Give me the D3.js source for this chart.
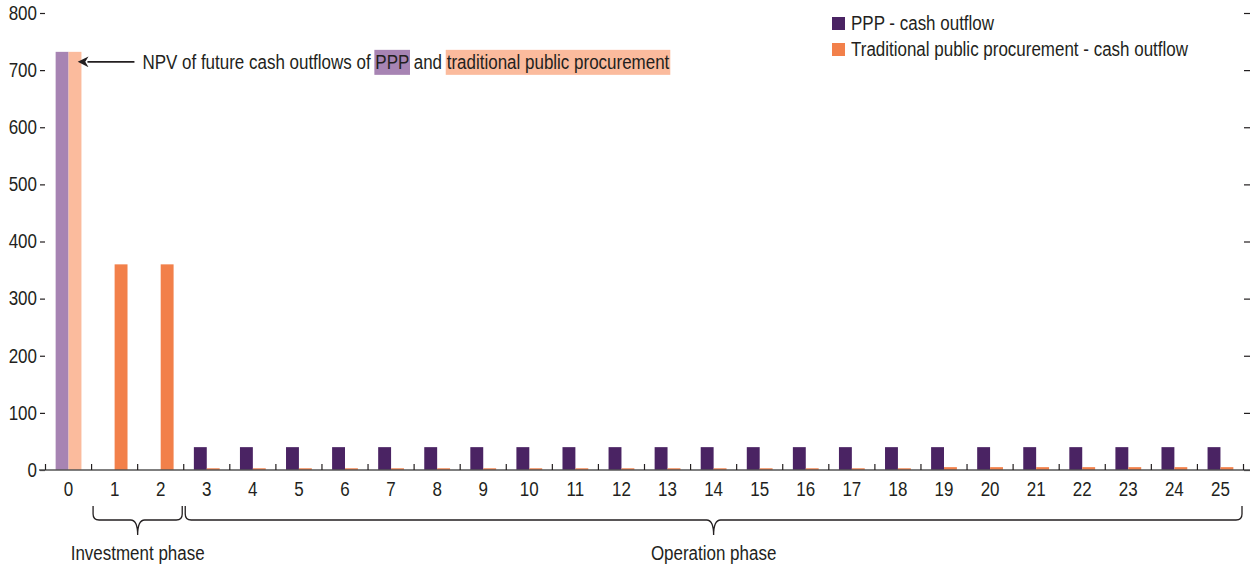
<!DOCTYPE html>
<html><head><meta charset="utf-8">
<script src="https://cdn.jsdelivr.net/npm/d3@7"></script>
<style>
body{margin:0;background:#fff;}
text{font-family:"Liberation Sans",Arial,sans-serif;fill:#231f20;}
</style></head>
<body><svg id="c" width="1254" height="566"></svg>
<script>
const years = d3.range(0, 26).map(String);
const pppValues = [732, 0, 0, 40,40,40,40,40,40,40,40,40,40,40,40,40,40,40,40,40,40,40,40,40,40,40];
const tradValues = [732, 360, 360, 3,3,3,3,3,3,3,3,3,3,3,3,3,3,3,3,5,5,5,5,5,5,5];
const yTicks = [0,100,200,300,400,500,600,700,800];
const seriesNames = ["PPP - cash outflow","Traditional public procurement - cash outflow"];
const phases = [{label:"Investment phase", from:"1", to:"2"},{label:"Operation phase", from:"3", to:"25"}];
const annotation = ["NPV of future cash outflows of ", "PPP", " and ", "traditional public procurement"];

const FS = "19.5px";
const K = 0.87; // condense factor to mimic a narrow font
function condense(sel){
  let tot = 0;
  sel.each(function(){
    const w = this.getComputedTextLength();
    tot = w*K;
    if(w>0){ this.setAttribute("textLength", w*K); this.setAttribute("lengthAdjust","spacingAndGlyphs"); }
  });
  return tot;
}

const colors = {ppp:"#4a2363", trad:"#f2804a", pppNpv:"#a784b3", tradNpv:"#fbbb9d"};
const svg = d3.select("#c");
const x = d3.scaleBand().domain(years).range([45.5, 1243.5]).padding(0);
const bw = x.bandwidth();
const x1 = d3.scaleBand().domain(["ppp","trad"]).range([bw*0.22, bw*0.78]);
const y = d3.scaleLinear().domain([0,800]).range([470,13]);

// left axis
const la = svg.append("g").attr("transform","translate(45,0)")
  .call(d3.axisLeft(y).tickValues(yTicks).tickSize(5).tickPadding(3));
la.select(".domain").remove();
la.selectAll("line").attr("stroke","#231f20").attr("stroke-width",1.2);
la.selectAll("text").style("font-size",FS).attr("fill","#231f20").attr("font-family",null);
condense(la.selectAll("text"));
// right axis
const ra = svg.append("g").attr("transform","translate(1244,0)")
  .call(d3.axisRight(y).tickValues(yTicks).tickSize(6).tickFormat(""));
ra.select(".domain").remove();
ra.selectAll("line").attr("stroke","#231f20").attr("stroke-width",1.2);

// bars
const data = years.map((c,i)=>({c, ppp:pppValues[i], trad:tradValues[i]}));
const g = svg.append("g");
data.forEach((d,i)=>{
  ["ppp","trad"].forEach(k=>{
    const col = i===0 ? (k==="ppp"?colors.pppNpv:colors.tradNpv) : colors[k];
    g.append("rect").attr("x",x(d.c)+x1(k)).attr("width",x1.bandwidth())
      .attr("y",y(d[k])).attr("height",y(0)-y(d[k])).attr("fill",col);
  });
});

// x axis line and ticks
svg.append("line").attr("x1",39).attr("x2",1250).attr("y1",y(0)).attr("y2",y(0)).attr("stroke","#555").attr("stroke-width",1.6);
const bounds = years.map(c=>x(c)).concat([x(years[years.length-1])+bw]);
svg.selectAll(".xt").data(bounds).join("line").attr("x1",d=>d).attr("x2",d=>d)
  .attr("y1",y(0)).attr("y2",y(0)-6).attr("stroke","#231f20").attr("stroke-width",1.2);
const xl = svg.selectAll(".xl").data(years).join("text").attr("x",d=>x(d)+bw/2).attr("y",496)
  .attr("text-anchor","middle").style("font-size",FS).text(d=>d);
condense(xl);

// brackets
phases.forEach(p=>{
  const a = x(p.from)+1.5, b = x(p.to)+bw-1.5, m=(a+b)/2;
  const y0=506, y1=520, y2=535, r=6;
  const path = `M${a},${y0} L${a},${y1-r} Q${a},${y1} ${a+r},${y1} L${m-7},${y1} Q${m},${y1} ${m},${y2} Q${m},${y1} ${m+7},${y1} L${b-r},${y1} Q${b},${y1} ${b},${y1-r} L${b},${y0}`;
  svg.append("path").attr("d",path).attr("fill","none").attr("stroke","#231f20").attr("stroke-width",1.3);
  const t = svg.append("text").attr("x",m).attr("y",560).attr("text-anchor","middle").style("font-size",FS).text(p.label);
  condense(t);
});

// legend
seriesNames.forEach((s,i)=>{
  svg.append("rect").attr("x",832).attr("y",17+i*26).attr("width",13).attr("height",13).attr("fill",i===0?colors.ppp:colors.trad);
  const t = svg.append("text").attr("x",851).attr("y",30+i*26).style("font-size",FS).text(s);
  condense(t);
});

// annotation
const ay = y(pppValues[0]) + 10;
const ax0 = x("0")+x1("trad")+x1.bandwidth()+3;
svg.append("defs").append("marker").attr("id","ah").attr("viewBox","0 0 10 10").attr("refX",1).attr("refY",5)
  .attr("markerWidth",7).attr("markerHeight",6).attr("markerUnits","strokeWidth").attr("orient","auto-start-reverse")
  .append("path").attr("d","M0,0 L10,5 L0,10 L3,5 Z").attr("fill","#231f20");
svg.append("line").attr("x1",ax0+3).attr("x2",ax0+50).attr("y1",ay).attr("y2",ay)
  .attr("stroke","#231f20").attr("stroke-width",1.8).attr("marker-start","url(#ah)");
const bg = svg.append("g");
const at = svg.append("text").attr("x",ax0+58).attr("y",ay+7).style("font-size",FS).style("white-space","pre");
annotation.forEach(t=>at.append("tspan").text(t));
condense(at);
const node = at.node();
let idx = 0;
annotation.forEach((t,i)=>{
  const s = idx, e = idx + t.length - 1;
  if(i===1||i===3){
    const x0 = node.getExtentOfChar(s).x;
    const ext = node.getExtentOfChar(e);
    const x2 = ext.x + ext.width;
    bg.append("rect").attr("x",x0-1).attr("y",ay-12).attr("width",x2-x0+2).attr("height",25)
      .attr("fill",i===1?colors.pppNpv:colors.tradNpv);
  }
  idx += t.length;
});
</script></body></html>
